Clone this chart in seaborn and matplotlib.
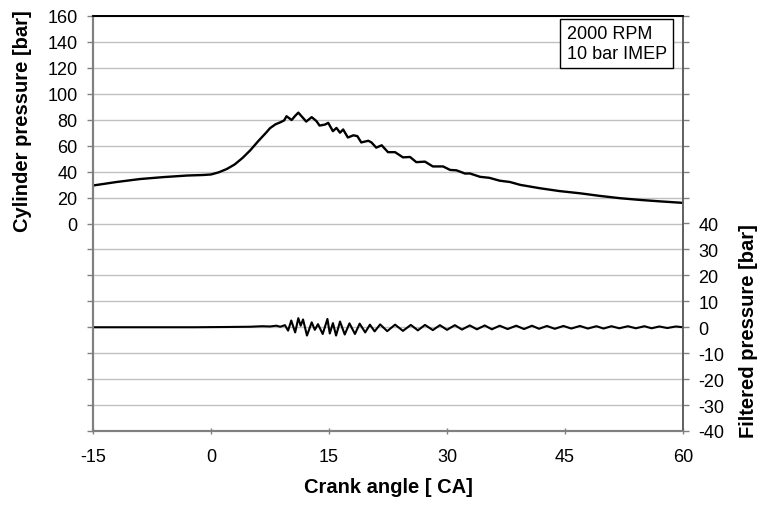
import matplotlib
matplotlib.use("Agg")
import matplotlib.pyplot as plt
import seaborn as sns
import pandas as pd
from matplotlib.ticker import FixedLocator, FuncFormatter

# ---- data ----
cyl_ca = [-15, -12, -9, -6, -3,
          -1, 0, 1, 2, 3,
          4, 5, 6, 7, 7.5,
          8.2, 8.8, 9.3, 9.6, 10.25,
          10.7, 11.1, 11.7, 12.1, 12.8,
          13.4, 13.8, 14.5, 14.9, 15.5,
          15.95, 16.4, 16.8, 17.4, 18.1,
          18.6, 19.1, 20.0, 20.4, 21.0,
          21.7, 22.5, 23.4, 24.4, 25.3,
          26.1, 27.2, 28.2, 29.5, 30.4,
          31.2, 32.3, 32.9, 34.2, 35.4,
          36.7, 38.0, 39.3, 41.8, 44.3,
          46.9, 49.4, 52.0, 54.5, 57.0,
          60]
cyl_p = [29.3, 32.0, 34.3, 35.8, 37.0,
         37.4, 37.8, 39.5, 42.0, 45.5,
         50.5, 56.5, 63.5, 70.0, 73.5,
         76.5, 78.0, 79.5, 82.7, 79.8,
         83.0, 85.5, 81.4, 78.6, 82.0,
         79.0, 75.5, 76.3, 77.6, 71.2,
         73.7, 70.0, 72.5, 66.3, 68.0,
         67.4, 62.5, 63.8, 62.5, 58.5,
         60.3, 55.0, 55.0, 51.0, 51.3,
         47.3, 47.7, 44.0, 44.0, 41.3,
         41.0, 38.5, 38.6, 36.0, 35.2,
         33.0, 32.0, 29.8, 27.2, 25.0,
         23.3, 21.3, 19.5, 18.2, 17.1,
         15.9]

filt_ca = [-15, -8, -2, 2, 5,
           6.5, 7.5, 8.3, 8.8, 9.4,
           9.8, 10.2, 10.7, 11.1, 11.4,
           11.7, 12.2, 12.8, 13.2, 13.6,
           14.2, 14.8, 15.1, 15.5, 15.9,
           16.4, 17.0, 17.6, 18.3, 18.9,
           19.6, 20.2, 20.8, 21.5, 22.4,
           23.4, 24.4, 25.4, 26.3, 27.2,
           28.2, 29.1, 30.0, 31.0, 31.9,
           32.9, 33.8, 34.8, 35.7, 36.7,
           37.7, 38.8, 39.8, 40.8, 41.7,
           42.7, 43.7, 44.8, 45.8, 46.9,
           47.9, 49.0, 49.9, 50.9, 51.9,
           53.0, 54.0, 55.1, 56.0, 57.0,
           58.0, 59.1, 60]
filt_p = [0, 0, 0, 0.1, 0.2,
          0.4, 0.3, 0.6, 0.2, 0.8,
          -1.3, 2.6, -2.0, 3.5, 0.6,
          3.0, -3.2, 1.9, -1.0, 1.2,
          -2.6, 3.2, -2.4, 1.6, -3.2,
          2.2, -2.8, 1.5, -2.6, 1.4,
          -2.0, 1.0, -1.6, 1.1, -1.5,
          1.0, -1.4, 0.9, -1.2, 0.9,
          -1.1, 0.8, -1.0, 0.8, -0.9,
          0.7, -0.8, 0.7, -0.8, 0.6,
          -0.7, 0.6, -0.7, 0.6, -0.6,
          0.5, -0.6, 0.5, -0.5, 0.5,
          -0.5, 0.4, -0.5, 0.4, -0.4,
          0.4, -0.4, 0.4, -0.4, 0.3,
          -0.3, 0.3, 0]

x_ticks = [-15, 0, 15, 30, 45, 60]
left_ticks = list(range(-160, 161, 20))
right_ticks = list(range(-40, 121, 10))

# ---- style ----
sns.set_theme(style="white")
plt.rcParams['font.family'] = ['Liberation Sans', 'DejaVu Sans']
plt.rcParams['axes.unicode_minus'] = False
plt.rcParams['text.color'] = 'black'
plt.rcParams['axes.labelcolor'] = 'black'
plt.rcParams['xtick.color'] = 'black'
plt.rcParams['ytick.color'] = 'black'

df_cyl = pd.DataFrame({"ca": cyl_ca, "p": cyl_p})
df_filt = pd.DataFrame({"ca": filt_ca, "p": filt_p})

fig = plt.figure(figsize=(7.64, 5.06), dpi=100)
ax = fig.add_axes([93/764, 1 - 432/506, 590/764, 415/506])
ax2 = ax.twinx()

sns.lineplot(data=df_cyl, x="ca", y="p", ax=ax, color="black", lw=1.7,
             sort=False, estimator=None)
sns.lineplot(data=df_filt, x="ca", y="p", ax=ax2, color="black", lw=1.5,
             sort=False, estimator=None)

ax.set_xlim(-15, 60)
ax.set_ylim(-160, 160)
ax2.set_ylim(-40, 120)

ax.xaxis.set_major_locator(FixedLocator(x_ticks))
ax.yaxis.set_major_locator(FixedLocator(left_ticks))
ax.yaxis.set_major_formatter(FuncFormatter(lambda v, p: f"{int(v)}" if v >= 0 else ""))
ax2.yaxis.set_major_locator(FixedLocator(right_ticks))
ax2.yaxis.set_major_formatter(FuncFormatter(lambda v, p: f"{int(v)}" if v <= 40 else ""))

ax.grid(axis="y", color="#c0c0c0", lw=1)
ax.grid(axis="x", visible=False)
ax2.grid(False)

ax.set_xlabel("")
ax.set_ylabel("")
ax2.set_ylabel("")

ax.tick_params(axis="y", direction="out", length=4, width=1, color="#808080",
               labelsize=13, labelcolor="black", pad=7, left=True)
ax.tick_params(axis="x", direction="inout", length=5, width=1, color="#808080",
               labelsize=13, labelcolor="black", pad=10, bottom=True)
ax2.tick_params(axis="y", direction="out", length=4, width=1, color="#808080",
                labelsize=13, labelcolor="black", pad=7, right=True)

for a in (ax, ax2):
    a.spines["left"].set_color("#808080")
    a.spines["left"].set_linewidth(1.5)
    a.spines["bottom"].set_color("#808080")
    a.spines["bottom"].set_linewidth(1.5)
    a.spines["right"].set_color("#606060")
    a.spines["right"].set_linewidth(1.2)
    a.spines["top"].set_color("black")
    a.spines["top"].set_linewidth(1.3)

ax.text(0.803, 0.978, "2000 RPM\n10 bar IMEP", transform=ax.transAxes,
        ha="left", va="top", fontsize=13, linespacing=1.2, color="black",
        bbox=dict(boxstyle="square,pad=0.35", fc="white", ec="black", lw=1))

fig.text(0.0288, 1 - 121/506, "Cylinder pressure [bar]", rotation=90,
         ha="center", va="center", fontsize=14.5, fontweight="bold", color="black")
fig.text(0.980, 1 - 331/506, "Filtered pressure [bar]", rotation=90,
         ha="center", va="center", fontsize=14.5, fontweight="bold", color="black")
fig.text(388/764, 1 - 488/506, "Crank angle [ CA]", ha="center", va="center",
         fontsize=14.5, fontweight="bold", color="black")

fig.savefig("out.png", dpi=100)
